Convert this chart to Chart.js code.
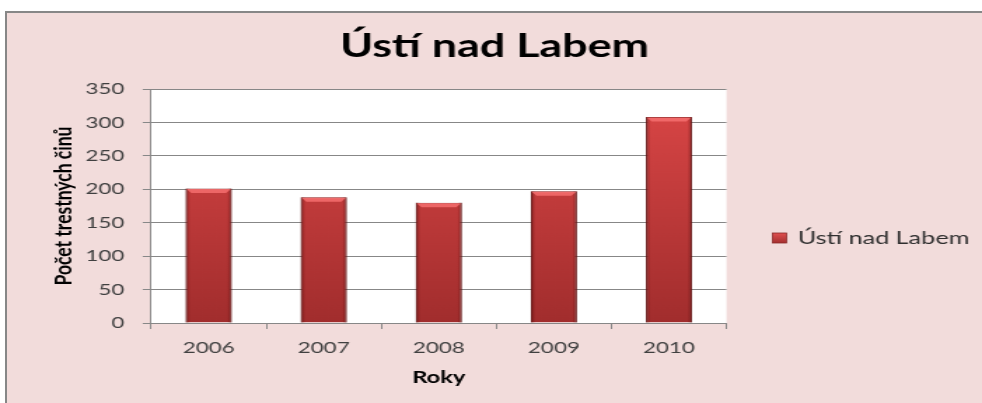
<!DOCTYPE html>
<html>
<head>
<meta charset="utf-8">
<script src="https://cdn.jsdelivr.net/npm/chart.js@4.4.1/dist/chart.umd.min.js"></script>
<style>
  html, body { margin: 0; padding: 0; background: #ffffff; }
  #wrap {
    position: absolute; left: 5px; top: 11px;
    width: 977px; height: 392px; box-sizing: border-box;
    border-top: 2px solid #878787; border-left: 2px solid #878787;
    background: #F2DCDB; overflow: hidden;
  }
  #c { display: block; width: 975px; height: 390px; }
</style>
</head>
<body>
<div id="wrap"><canvas id="c" width="696" height="390" style="width:975px;height:390px"></canvas></div>
<script>
// ---- data ----
const chartTitle = "Ústí nad Labem";
const categories = ["2006", "2007", "2008", "2009", "2010"];
const seriesName = "Ústí nad Labem";
const values = [201, 188, 180, 197, 308];
const yTicks = [0, 50, 100, 150, 200, 250, 300, 350];
const xAxisTitle = "Roky";
const yAxisTitle = "Počet trestných činů";

const FONT = "Lato, 'Open Sans', sans-serif";

const plotBg = {
  id: 'plotBg',
  beforeDraw(chart) {
    const {ctx, chartArea: a} = chart;
    ctx.save();
    ctx.fillStyle = '#ffffff';
    ctx.fillRect(a.left, a.top, a.right - a.left, a.bottom - a.top);
    ctx.restore();
  }
};

// bevel / edge shading on top of each bar, using the bar elements laid out by Chart.js
const barShade = {
  id: 'barShade',
  afterDatasetsDraw(chart) {
    const ctx = chart.ctx;
    const meta = chart.getDatasetMeta(0);
    ctx.save();
    meta.data.forEach(bar => {
      const {x, y, base, width} = bar.getProps(['x', 'y', 'base', 'width'], true);
      const l = x - width / 2, r = x + width / 2;
      const g = ctx.createLinearGradient(l, 0, r, 0);
      g.addColorStop(0, 'rgba(70,0,0,0.45)');
      g.addColorStop(0.1, 'rgba(70,0,0,0.0)');
      g.addColorStop(0.9, 'rgba(70,0,0,0.0)');
      g.addColorStop(1, 'rgba(70,0,0,0.45)');
      ctx.fillStyle = g;
      ctx.fillRect(l, y, width, base - y);
      // top bevel
      const h = 4.5;
      ctx.beginPath();
      ctx.moveTo(l + 0.5, y + 0.5);
      ctx.lineTo(r - 0.5, y + 0.5);
      ctx.lineTo(r - 4, y + h);
      ctx.lineTo(l + 4, y + h);
      ctx.closePath();
      ctx.fillStyle = 'rgba(245,110,110,0.85)';
      ctx.fill();
    });
    ctx.restore();
  }
};

const sideLegend = {
  id: 'sideLegend',
  afterDraw(chart) {
    const ctx = chart.ctx;
    const ds = chart.data.datasets[0];
    const x = 546.4, yMid = 225;
    ctx.save();
    const g = ctx.createLinearGradient(0, yMid - 5, 0, yMid + 5);
    g.addColorStop(0, '#e05050');
    g.addColorStop(1, '#a52f2f');
    ctx.fillStyle = g;
    ctx.fillRect(x, yMid - 5, 10, 10);
    ctx.strokeStyle = '#8a2a2a';
    ctx.lineWidth = 0.8;
    ctx.strokeRect(x, yMid - 5, 10, 10);
    ctx.fillStyle = '#2e2e2e';
    ctx.font = "18px " + FONT;
    ctx.textBaseline = 'middle';
    ctx.textAlign = 'left';
    ctx.fillText(ds.label, x + 18, yMid);
    ctx.restore();
  }
};

function barFill(context) {
  const chart = context.chart;
  const a = chart.chartArea;
  if (!a) return '#c83c3c';
  const g = chart.ctx.createLinearGradient(0, a.top, 0, a.bottom);
  g.addColorStop(0, '#dc4747');
  g.addColorStop(1, '#a12d2d');
  return g;
}

new Chart(document.getElementById('c'), {
  type: 'bar',
  data: {
    labels: categories,
    datasets: [{
      label: seriesName,
      data: values,
      backgroundColor: barFill,
      borderColor: '#7a2020',
      borderWidth: 1,
      barPercentage: 1.0,
      categoryPercentage: 0.4
    }]
  },
  options: {
    responsive: false,
    animation: false,
    devicePixelRatio: 1,
    layout: { padding: { left: 30.3, right: 30.3, top: 0, bottom: 15.4 } },
    plugins: {
      legend: { display: false },
      tooltip: { enabled: false },
      title: {
        display: true,
        text: chartTitle,
        color: '#000000',
        font: { family: FONT, size: 32, weight: 'bold', lineHeight: 1.2 },
        padding: { top: 14.8, bottom: 22.8 }
      }
    },
    scales: {
      x: {
        grid: { offset: true, drawOnChartArea: false, drawTicks: true, tickLength: 6, color: '#878787' },
        border: { display: true, color: '#878787' },
        ticks: { color: '#404040', font: { family: FONT, size: 16, lineHeight: 1.2 }, padding: 9, maxRotation: 0 },
        title: { display: true, text: xAxisTitle, color: '#000000', font: { family: FONT, size: 17, weight: 'bold', lineHeight: 1.2 }, padding: 0 },
        afterFit(scale) { scale.height = 64.6; }
      },
      y: {
        min: 0, max: 350,
        afterBuildTicks(scale) { scale.ticks = yTicks.map(v => ({ value: v })); },
        grid: { color: '#878787', tickLength: 6, drawTicks: true },
        border: { display: true, color: '#878787' },
        ticks: { color: '#404040', font: { family: FONT, size: 16, lineHeight: 1.2 }, padding: 13 },
        title: { display: true, text: yAxisTitle, color: '#000000', font: { family: FONT, size: 17.5, weight: 'bold', lineHeight: 1.2 }, padding: 0 },
        afterFit(scale) { scale.width = 72.6; }
      },
      legendSpace: {
        type: 'linear',
        position: 'right',
        display: true,
        grid: { display: false, drawTicks: false },
        border: { display: false },
        ticks: { display: false },
        afterFit(scale) { scale.width = 152.1; }
      }
    }
  },
  plugins: [plotBg, barShade, sideLegend]
});
</script>
</body>
</html>
